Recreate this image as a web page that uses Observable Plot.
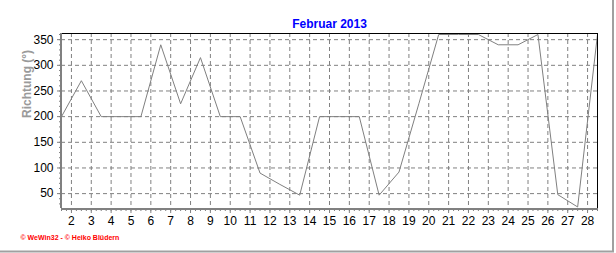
<!DOCTYPE html>
<html>
<head>
<meta charset="utf-8">
<script src="https://cdn.jsdelivr.net/npm/d3@7"></script>
<script src="https://cdn.jsdelivr.net/npm/@observablehq/plot@0.6"></script>
<style>
  html, body { margin: 0; padding: 0; background: #fff; }
  svg { display: block; }
</style>
</head>
<body>
<div id="chart"></div>
<script>
// Data: wind direction per day (plotted at noon of each day)
const days = [1.5, 2.5, 3.5, 4.5, 5.5, 6.5, 7.5, 8.5, 9.5, 10.5, 11.5, 12.5, 13.5, 14.5,
              15.5, 16.5, 17.5, 18.5, 19.5, 20.5, 21.5, 22.5, 23.5, 24.5, 25.5, 26.5, 27.5, 28.5];
const direction = [200, 270, 200, 200, 200, 340, 225, 315, 200, 200, 90, 68, 47, 200,
                   200, 200, 47, 92, 225, 360, 360, 360, 340, 340, 360, 48, 24, 360];
const xTicks = [2, 3, 4, 5, 6, 7, 8, 9, 10, 11, 12, 13, 14, 15, 16, 17, 18, 19, 20, 21, 22, 23, 24, 25, 26, 27, 28];
const yTicks = [50, 100, 150, 200, 250, 300, 350];
const xMinor = d3.range(1.5, 28.51, 0.25);
const yMinor = d3.range(30, 361, 10);
const title = "Februar 2013";
const yLabel = "Richtung (°)";
const footer = "© WeWin32 - © Heiko Blüdern";

const data = days.map((d, i) => ({day: d, dir: direction[i]}));

const chart = Plot.plot({
  width: 616,
  height: 253,
  marginLeft: 61,
  marginRight: 19,
  marginTop: 33,
  marginBottom: 45,
  style: {fontFamily: "'Liberation Sans', Arial, sans-serif", fontSize: "11px", color: "#000", background: "#fff"},
  x: {domain: [1.5, 28.5], label: null},
  y: {domain: [21, 362], label: null},
  marks: [
    Plot.gridX(xTicks, {stroke: "#808080", strokeOpacity: 1, strokeDasharray: "4,3"}),
    Plot.gridY(yTicks, {stroke: "#808080", strokeOpacity: 1, strokeDasharray: "4,3"}),
    Plot.line(data, {x: "day", y: "dir", stroke: "#808080", strokeWidth: 1}),
    Plot.frame({stroke: "#000", strokeWidth: 1}),
    Plot.axisX(xMinor, {tickSize: 3, tickFormat: () => "", stroke: "#808080", label: null}),
    Plot.axisX(xTicks, {tickSize: 5, tickPadding: 3, stroke: "#808080", fill: "#000", fontSize: 12, label: null}),
    Plot.axisY(yMinor, {tickSize: 2, tickFormat: () => "", stroke: "#808080", label: null}),
    Plot.axisY(yTicks, {tickSize: 4, tickPadding: 4, stroke: "#808080", fill: "#000", fontSize: 12, label: null}),
    Plot.ruleX([1.5], {stroke: "#808080", strokeWidth: 2, dx: -0.5}),
    Plot.ruleY([21], {stroke: "#808080", strokeWidth: 2, dy: 0.5}),
    Plot.text([title], {frameAnchor: "top", dy: -14, fill: "#0000ff", fontWeight: "bold", fontSize: 12}),
    Plot.text([yLabel], {frameAnchor: "left", rotate: -90, dx: -34, dy: -3, fill: "#9a9a9a", fontWeight: "bold", fontSize: 12}),
    Plot.text([footer], {frameAnchor: "bottom-left", textAnchor: "start", dx: -41, dy: 31, fill: "#ff0000", fontWeight: "bold", fontSize: 7})
  ]
});

// outer sunken border on right and bottom edges
const svg = d3.select(chart);
svg.append("path")
  .attr("d", "M613,0V251.5H0")
  .attr("fill", "none")
  .attr("stroke", "#a0a0a0")
  .attr("stroke-width", 2);

document.getElementById("chart").appendChild(chart);
</script>
</body>
</html>
